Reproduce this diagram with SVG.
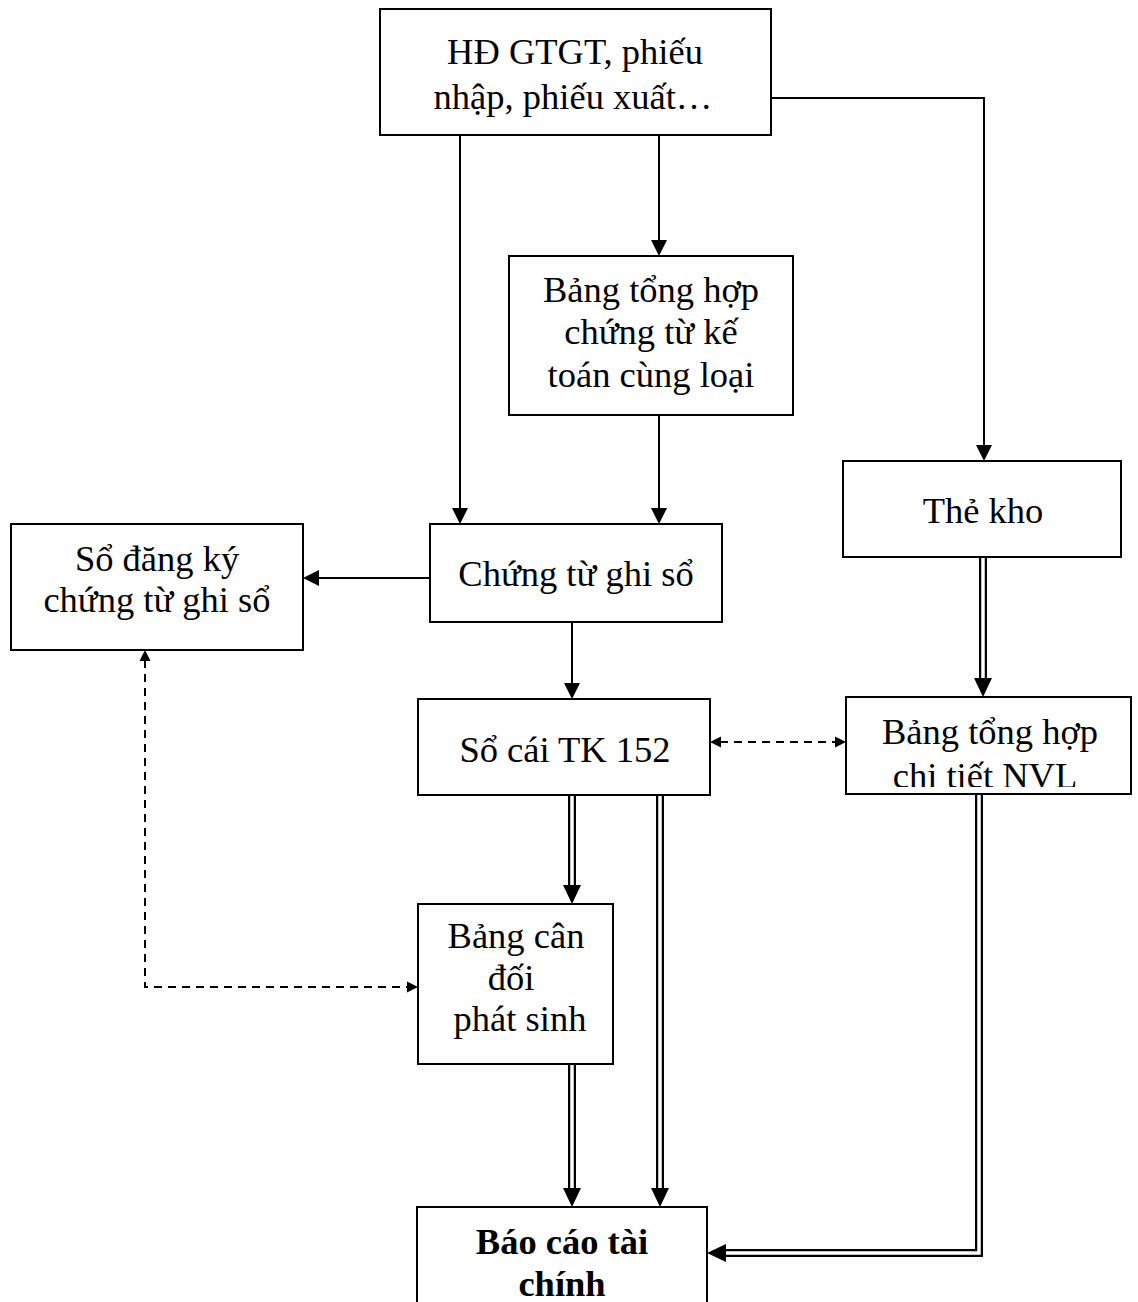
<svg xmlns="http://www.w3.org/2000/svg" width="1138" height="1302" viewBox="0 0 1138 1302">
  <style>
    .box { fill: #ffffff; stroke: #000000; stroke-width: 2; }
    .lbl { font-family: "Liberation Serif", "Times New Roman", serif; font-size: 36.5px; fill: #000000; text-anchor: middle; }
    .bold { font-weight: bold; }
    .single { fill: none; stroke: #000000; stroke-width: 2; }
    .dashed { fill: none; stroke: #000000; stroke-width: 2; stroke-dasharray: 8 6; }
    .dbl-outer { fill: none; stroke: #000000; stroke-width: 8; stroke-linejoin: miter; }
    .dbl-inner { fill: none; stroke: #ffffff; stroke-width: 3.5; stroke-linejoin: miter; }
    .head { fill: #000000; stroke: none; }
  </style>
  <defs>
    <!-- arrowheads pointing down, tip at origin -->
    <path id="hd" d="M0,0 L-8,-16 L8,-16 Z"/>
    <path id="hd2" d="M0,0 L-9,-19 L9,-19 Z"/>
    <path id="hdd" d="M0,0 L-5.5,-11 L5.5,-11 Z"/>
    <clipPath id="clipNVL">
      <rect x="846" y="697" width="286" height="90"/>
    </clipPath>
  </defs>

  <rect width="1138" height="1302" fill="#ffffff"/>

  <!-- connectors -->
  <g id="connectors">
    <path class="single" d="M460,135 V510"/>
    <use href="#hd" class="head" transform="translate(460,524)"/>
    <path class="single" d="M659,135 V242"/>
    <use href="#hd" class="head" transform="translate(659,256)"/>
    <path class="single" d="M771,98 H984 V447"/>
    <use href="#hd" class="head" transform="translate(984,461)"/>
    <path class="single" d="M659,415 V510"/>
    <use href="#hd" class="head" transform="translate(659,524)"/>
    <path class="single" d="M430,578 H317"/>
    <use href="#hd" class="head" transform="translate(303,578) rotate(90)"/>
    <path class="single" d="M572,622 V685"/>
    <use href="#hd" class="head" transform="translate(572,699)"/>

    <!-- dashed two-way links -->
    <path class="dashed" d="M720,742 H836"/>
    <use href="#hdd" class="head" transform="translate(710,742) rotate(90)"/>
    <use href="#hdd" class="head" transform="translate(846,742) rotate(-90)"/>
    <path class="dashed" d="M145,660 V987 H408"/>
    <use href="#hdd" class="head" transform="translate(145,650) rotate(180)"/>
    <use href="#hdd" class="head" transform="translate(418,987) rotate(-90)"/>

    <!-- double lines -->
    <path class="dbl-outer" d="M983,557 V682"/>
    <path class="dbl-inner" d="M983,556 V682"/>
    <use href="#hd2" class="head" transform="translate(983,697)"/>

    <path class="dbl-outer" d="M572,795 V889"/>
    <path class="dbl-inner" d="M572,794 V889"/>
    <use href="#hd2" class="head" transform="translate(572,904)"/>

    <path class="dbl-outer" d="M660,795 V1192"/>
    <path class="dbl-inner" d="M660,794 V1192"/>
    <use href="#hd2" class="head" transform="translate(660,1207)"/>

    <path class="dbl-outer" d="M572,1064 V1192"/>
    <path class="dbl-inner" d="M572,1063 V1192"/>
    <use href="#hd2" class="head" transform="translate(572,1207)"/>

    <path class="dbl-outer" d="M979,794 V1253 H722"/>
    <path class="dbl-inner" d="M979,793 V1253 H722"/>
    <use href="#hd2" class="head" transform="translate(707,1253) rotate(90)"/>
  </g>

  <!-- nodes -->
  <g id="n-hd-gtgt">
    <rect class="box" x="380" y="9" width="391" height="126"/>
    <text class="lbl" x="575" y="64">HĐ GTGT, phiếu</text>
    <text class="lbl" x="573" y="109">nhập, phiếu xuất…</text>
  </g>

  <g id="n-bang-tong-hop-ct">
    <rect class="box" x="509" y="256" width="284" height="159"/>
    <text class="lbl" x="651" y="302">Bảng tổng hợp</text>
    <text class="lbl" x="651" y="344">chứng từ kế</text>
    <text class="lbl" x="651" y="387">toán cùng loại</text>
  </g>

  <g id="n-chung-tu-ghi-so">
    <rect class="box" x="430" y="524" width="292" height="98"/>
    <text class="lbl" x="576" y="586">Chứng từ ghi sổ</text>
  </g>

  <g id="n-so-dang-ky">
    <rect class="box" x="11" y="524" width="292" height="126"/>
    <text class="lbl" x="157" y="571">Sổ đăng ký</text>
    <text class="lbl" x="157" y="612">chứng từ ghi sổ</text>
  </g>

  <g id="n-the-kho">
    <rect class="box" x="843" y="461" width="278" height="96"/>
    <text class="lbl" x="983" y="523">Thẻ kho</text>
  </g>

  <g id="n-so-cai">
    <rect class="box" x="418" y="699" width="292" height="96"/>
    <text class="lbl" x="565" y="762">Sổ cái TK 152</text>
  </g>

  <g id="n-bang-tong-hop-nvl">
    <rect class="box" x="846" y="697" width="285" height="97"/>
    <text class="lbl" x="990" y="744">Bảng tổng hợp</text>
    <text class="lbl" x="985" y="788" clip-path="url(#clipNVL)">chi tiết NVL</text>
  </g>

  <g id="n-can-doi">
    <rect class="box" x="418" y="904" width="195" height="160"/>
    <text class="lbl" x="516" y="948">Bảng cân</text>
    <text class="lbl" x="511" y="990">đối</text>
    <text class="lbl" x="520" y="1031">phát sinh</text>
  </g>

  <g id="n-bao-cao">
    <rect class="box" x="417" y="1207" width="290" height="110"/>
    <text class="lbl bold" x="562" y="1254">Báo cáo tài</text>
    <text class="lbl bold" x="562" y="1296">chính</text>
  </g>
</svg>
